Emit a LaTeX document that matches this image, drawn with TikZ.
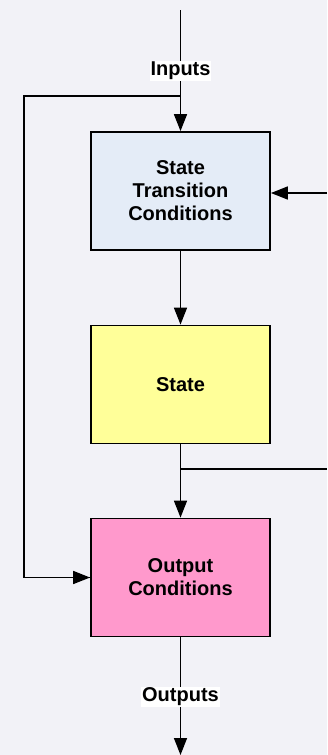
\documentclass[tikz,border=0pt]{standalone}
\usepackage{fontspec}
\setmainfont{Liberation Sans}
\usetikzlibrary{arrows.meta}
\definecolor{bgcol}{RGB}{242,242,247}
\definecolor{transcol}{RGB}{228,236,247}
\definecolor{statecol}{RGB}{255,255,153}
\definecolor{outcol}{RGB}{255,153,204}
\tikzset{
    block/.style={draw=black, line width=1.8pt, minimum width=179pt, minimum height=118pt,
        align=center, font=\fontsize{20}{23}\selectfont\bfseries},
    signal/.style={fill=white, inner sep=1pt, font=\fontsize{20}{23}\selectfont\bfseries},
    wire/.style={line width=1.6pt}
}
\begin{document}
\begin{tikzpicture}[>={Triangle[length=17pt,width=13pt]}, x=1pt, y=-1pt]
    \fill[bgcol] (0,0) rectangle (327,755);
    \useasboundingbox (0,0) rectangle (327,755);
    % blocks
    \node[block, fill=transcol] (trans) at (180.5,191) {State\\Transition\\Conditions};
    \node[block, fill=statecol] (state) at (180.5,384.5) {State};
    \node[block, fill=outcol] (outc) at (180.5,577.5) {Output\\Conditions};
    % free ends and corners
    \coordinate (intop) at (180.5,10);
    \coordinate (split) at (180.5,96);
    \coordinate (corner) at (24,96);
    \coordinate (fbin) at (327,193);
    \coordinate (branch) at (180.5,469);
    \coordinate (fbout) at (327,469);
    \coordinate (outend) at (180.5,755);
    % inputs
    \draw[wire, ->] (intop) -- (trans.north);
    \node[signal] (inlbl) at (180.5,71) {Inputs};
    \draw[wire] (split) -- (corner) |- (outc.west) coordinate[pos=0.5] (cornerb);
    \draw[wire, ->] (cornerb) -- (outc.west);
    \draw[wire, ->] (fbin) -- (fbin -| trans.east);
    % state path
    \draw[wire, ->] (trans.south) -- (state.north);
    \draw[wire, ->] (state.south) -- (outc.north);
    \draw[wire] (branch) -- (fbout);
    % outputs
    \draw[wire, ->] (outc.south) -- (outend);
    \node[signal] (outlbl) at (180.5,697) {Outputs};
\end{tikzpicture}
\end{document}
